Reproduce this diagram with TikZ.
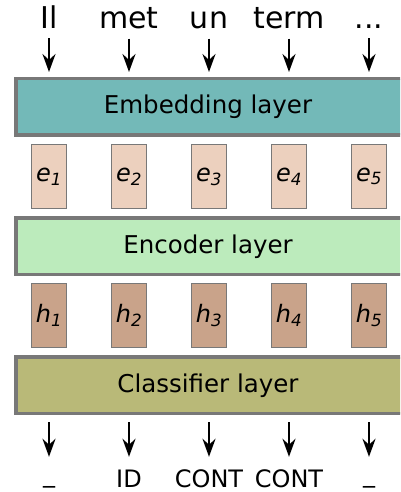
\documentclass[tikz,border=0pt]{standalone}
\usepackage{fontspec}
\setmainfont{DejaVu Sans}
\definecolor{embteal}{RGB}{115, 185, 184}
\definecolor{encgreen}{RGB}{188, 235, 188}
\definecolor{clsolive}{RGB}{185, 185, 120}
\definecolor{vecpeach}{RGB}{236, 208, 190}
\definecolor{hidbrown}{RGB}{201, 163, 138}
\definecolor{edgegray}{RGB}{120, 120, 120}
\usetikzlibrary{arrows.meta, positioning}

\begin{document}
\begin{tikzpicture}[
  x=1pt, y=1pt,
  layerbar/.style={draw=edgegray, line width=3.5pt, minimum width=392pt, minimum height=56.5pt, inner sep=0pt, font=\fontsize{24.5}{28}\selectfont},
  vecbox/.style={draw=edgegray, line width=1.2pt, minimum width=35pt, minimum height=64pt, inner sep=0pt, font=\fontsize{24}{28}\selectfont\itshape},
  word/.style={anchor=base, inner sep=0pt, font=\fontsize{30}{34}\selectfont},
  tag/.style={anchor=base, inner sep=0pt, text height=17pt, font=\fontsize{24}{28}\selectfont},
  flow/.style={-{Stealth[length=18pt, width=13pt, inset=6pt]}, line width=2.4pt}
]
  \clip (0,0) rectangle (400,492);

  % Input words
  \node[word] (w1) at (49,463) {Il};
  \node[word] (w2) at (129,463) {met};
  \node[word] (w3) at (209,463) {un};
  \node[word] (w4) at (289,463) {term};
  \node[word] (w5) at (369,463) {...};

  % Embedding layer
  \node[layerbar, fill=embteal] (emb) at (212,385) {\hspace*{-8pt}Embedding layer};
  \node[vecbox, fill=vecpeach] (e1) at (49,315.5) {e\textsubscript{1}};
  \node[vecbox, fill=vecpeach] (e2) at (129,315.5) {e\textsubscript{2}};
  \node[vecbox, fill=vecpeach] (e3) at (209,315.5) {e\textsubscript{3}};
  \node[vecbox, fill=vecpeach] (e4) at (289,315.5) {e\textsubscript{4}};
  \node[vecbox, fill=vecpeach] (e5) at (369,315.5) {e\textsubscript{5}};

  % Encoder layer
  \node[layerbar, fill=encgreen] (enc) at (212,245.5) {\hspace*{-8pt}Encoder layer};
  \node[vecbox, fill=hidbrown] (h1) at (49,176.5) {h\textsubscript{1}};
  \node[vecbox, fill=hidbrown] (h2) at (129,176.5) {h\textsubscript{2}};
  \node[vecbox, fill=hidbrown] (h3) at (209,176.5) {h\textsubscript{3}};
  \node[vecbox, fill=hidbrown] (h4) at (289,176.5) {h\textsubscript{4}};
  \node[vecbox, fill=hidbrown] (h5) at (369,176.5) {h\textsubscript{5}};

  % Classifier layer
  \node[layerbar, fill=clsolive] (cls) at (212,106.5) {\hspace*{-8pt}Classifier layer};

  % Output tags
  \node[tag] (t1) at (49,5) {\raisebox{5pt}{\_}};
  \node[tag] (t2) at (129,5) {ID};
  \node[tag] (t3) at (209,5) {CONT};
  \node[tag] (t4) at (289,5) {CONT};
  \node[tag] (t5) at (369,5) {\raisebox{5pt}{\_}};

  % Arrows in and out
  \foreach \i in {1,...,5} {
    \draw[flow, shorten <=9pt, shorten >=5pt] (w\i.south) -- (w\i.south |- emb.north);
    \draw[flow, shorten <=7pt, shorten >=13pt] (t\i.north |- cls.south) -- (t\i.north);
  }
\end{tikzpicture}
\end{document}
